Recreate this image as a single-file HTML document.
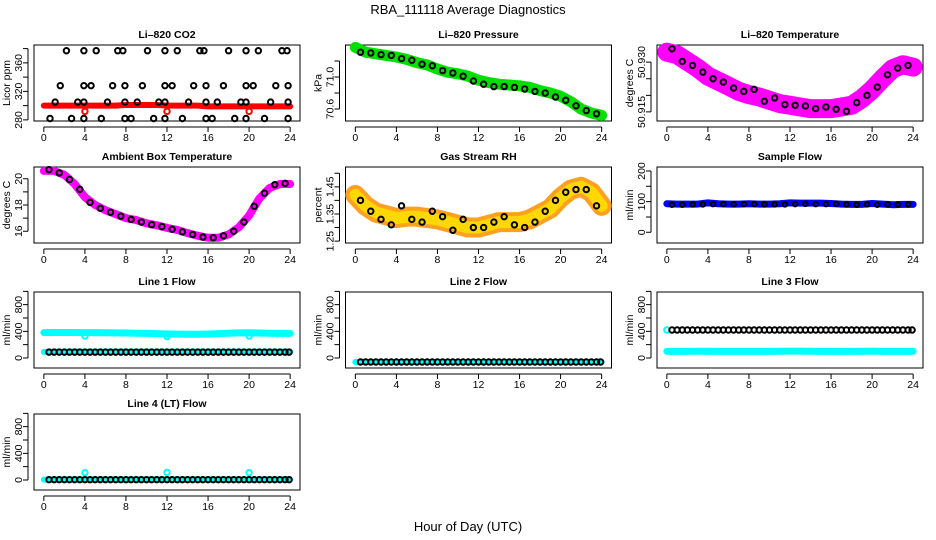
<!DOCTYPE html>
<html><head><meta charset="utf-8"><style>
html,body{margin:0;padding:0;background:#fff}
svg{display:block}
text{font-family:"Liberation Sans",sans-serif;fill:#000}
.t{font-size:10.5px;font-weight:bold}
.tk{font-size:10.5px}
</style></head><body>
<svg id="fig" width="936" height="540" xmlns="http://www.w3.org/2000/svg">
<text x="468" y="14" text-anchor="middle" font-size="13">RBA_111118  Average Diagnostics</text>
<text x="468" y="531" text-anchor="middle" font-size="13">Hour of Day (UTC)</text>
</svg>
<script>
// ---- data ----
const hours = [0,1,2,3,4,5,6,7,8,9,10,11,12,13,14,15,16,17,18,19,20,21,22,23,24];
const halfHours = [0.5,1,1.5,2,2.5,3,3.5,4,4.5,5,5.5,6,6.5,7,7.5,8,8.5,9,9.5,10,10.5,11,11.5,12,12.5,13,13.5,14,14.5,15,15.5,16,16.5,17,17.5,18,18.5,19,19.5,20,20.5,21,21.5,22,22.5,23,23.5,23.9];
const midHours = [0.5,1.5,2.5,3.5,4.5,5.5,6.5,7.5,8.5,9.5,10.5,11.5,12.5,13.5,14.5,15.5,16.5,17.5,18.5,19.5,20.5,21.5,22.5,23.5];
const spikeHours = [4,12,20];

const co2Times = [0.6,1.1,1.6,2.2,2.7,3.3,3.9,3.9,3.9,3.9,4.6,5.1,5.6,6.2,6.7,7.2,7.7,7.9,7.9,7.9,8.5,9.1,9.6,10.1,10.7,11.2,11.8,11.8,11.8,11.8,12.5,13.0,13.5,14.1,14.6,15.2,15.6,15.8,15.8,15.8,16.4,16.9,17.5,18.0,18.6,19.2,19.7,19.7,19.7,19.7,20.4,20.9,21.5,22.1,22.6,23.2,23.7,23.8,23.8,23.8];
const co2Black = [282,305,328,377,282,305,282,305,328,377,328,377,282,305,328,377,377,328,305,282,282,305,328,377,282,305,282,305,328,377,328,377,282,305,328,377,377,328,305,282,282,305,328,377,282,305,305,282,328,377,328,377,282,305,328,377,377,328,305,282];
const co2Red = [300,300,300,300,300,300,300,300,301,301,301,301,300,300,300,300,299,299,299,299,299,299,299,299,299];
const co2RedSpikes = [292,292,292];

const pressGreen = [71.37,71.31,71.29,71.27,71.25,71.22,71.18,71.15,71.10,71.06,71.04,71.01,70.96,70.93,70.91,70.90,70.89,70.87,70.83,70.80,70.76,70.69,70.60,70.55,70.52];
const pressBlack = [71.31,71.30,71.28,71.27,71.23,71.21,71.16,71.14,71.08,71.05,71.01,70.95,70.91,70.88,70.88,70.87,70.85,70.82,70.80,70.75,70.71,70.64,70.58,70.54];

const tempMag = [50.9330,50.9322,50.9302,50.9282,50.9258,50.9243,50.9228,50.9212,50.9202,50.9195,50.9185,50.9175,50.9170,50.9165,50.9160,50.9160,50.9160,50.9165,50.9170,50.9190,50.9217,50.9250,50.9280,50.9292,50.9285];
const tempBlack = [50.9340,50.9302,50.9290,50.9270,50.9250,50.9240,50.9222,50.9212,50.9218,50.9182,50.9192,50.9172,50.9170,50.9168,50.9160,50.9165,50.9158,50.9152,50.9178,50.9200,50.9225,50.9262,50.9282,50.9290];

const ambient = [20.6,20.6,20.3,19.6,18.6,18.0,17.6,17.3,17.0,16.85,16.6,16.45,16.25,16.1,15.85,15.65,15.5,15.5,15.75,16.3,17.2,18.5,19.3,19.6,19.6];
const ambientBlack = [20.7,20.45,19.95,19.2,18.2,17.75,17.45,17.15,16.9,16.7,16.5,16.35,16.15,15.95,15.75,15.55,15.5,15.65,16.0,16.7,17.9,18.9,19.55,19.65];

const rhBand = [1.42,1.38,1.355,1.345,1.335,1.34,1.34,1.335,1.33,1.32,1.31,1.30,1.30,1.31,1.32,1.32,1.32,1.33,1.35,1.37,1.41,1.44,1.45,1.43,1.38];
const rhBlack = [1.40,1.36,1.33,1.31,1.38,1.33,1.32,1.36,1.34,1.29,1.33,1.30,1.30,1.32,1.34,1.31,1.30,1.32,1.36,1.40,1.43,1.44,1.44,1.38];

const sampleBand = [93,92,92,92,96,93,92,92,93,92,92,93,96,95,95,95,94,92,91,91,94,92,90,91,91];
const sampleBlack = [90,90,91,91,92,92,91,92,92,91,91,91,92,93,92,92,93,91,90,91,90,91,91,91];

const line1Cyan = [380,382,383,382,380,380,379,377,375,372,369,365,360,358,356,356,360,366,372,376,378,375,372,370,370];
const line1CyanLow = [92,94,95,95,95,95,95,95,95,95,95,95,95,95,95,95,95,95,95,95,95,95,95,95,95];
const line1Black = [88,88,88,88,88,88,88,88,88,88,88,88,88,88,88,88,88,88,88,88,88,88,88,88,88,88,88,88,88,88,88,88,88,88,88,88,88,88,88,88,88,88,88,88,88,88,88,88];
const line1Spikes = [330,320,330];
const line2Cyan = [-60,-60,-60,-60,-60,-60,-60,-60,-60,-60,-60,-60,-60,-60,-60,-60,-60,-60,-60,-60,-60,-60,-60,-60,-60];
const line2Black = [-60,-60,-60,-60,-60,-60,-60,-60,-60,-60,-60,-60,-60,-60,-60,-60,-60,-60,-60,-60,-60,-60,-60,-60,-60,-60,-60,-60,-60,-60,-60,-60,-60,-60,-60,-60,-60,-60,-60,-60,-60,-60,-60,-60,-60,-60,-60,-60];
const line3Cyan = [100,100,100,102,102,100,100,100,100,100,100,102,104,104,102,100,100,100,100,102,104,100,100,100,100];
const line3CyanHigh = [420];
const line3Black = [420,420,420,420,420,420,420,420,420,420,420,420,420,420,420,420,420,420,420,420,420,420,420,420,420,420,420,420,420,420,420,420,420,420,420,420,420,420,420,420,420,420,420,420,420,420,420,420];
const line4Cyan = [5,5,5,5,5,5,5,5,5,5,5,5,5,5,5,5,5,5,5,5,5,5,5,5,5];
const line4Black = [5,5,5,5,5,5,5,5,5,5,5,5,5,5,5,5,5,5,5,5,5,5,5,5,5,5,5,5,5,5,5,5,5,5,5,5,5,5,5,5,5,5,5,5,5,5,5,5];
const line4Spikes = [110,115,110];
const xTicks = [0,4,8,12,16,20,24];

// ---- drawing ----
const NS = 'http://www.w3.org/2000/svg';
const svg = document.getElementById('fig');
const colLeft = [34, 345.5, 657];
const rowTop = [45, 167, 292, 414];
const PW = 266, PH = 76;

function mk(tag, parent) { const e = document.createElementNS(NS, tag); parent.appendChild(e); return e; }

function panel(col, row, name, title, ylab, ymin, ymax, ticks, labeled) {
  const g = mk('g', svg);
  
  
  const L = colLeft[col], T = rowTop[row];
  const xs = v => L + PW * ((v + 0.96) / 25.92);
  const ys = v => T + PH - PH * (v - ymin) / (ymax - ymin);
  const box = mk('rect', g);
  
  
  box.setAttribute('x', L); box.setAttribute('y', T); box.setAttribute('width', PW); box.setAttribute('height', PH);
  box.setAttribute('fill', 'none'); box.setAttribute('stroke', '#000'); box.setAttribute('stroke-width', '1');
  const tt = mk('text', g);
  
  
  tt.setAttribute('class', 't'); tt.setAttribute('x', L + PW / 2); tt.setAttribute('y', T - 7); tt.setAttribute('text-anchor', 'middle');
  tt.textContent = title;
  const xa = mk('path', g);
  
  
  let d = `M${xs(0)},${T+PH+6}H${xs(24)}`;
  xTicks.forEach(v => { d += `M${xs(v)},${T+PH+6}v5`; });
  xa.setAttribute('d', d); xa.setAttribute('stroke', '#000'); xa.setAttribute('fill', 'none');
  xTicks.forEach(v => {
    const t = mk('text', g);
    
    
    t.setAttribute('class', 'tk'); t.setAttribute('x', xs(v)); t.setAttribute('y', T + PH + 20); t.setAttribute('text-anchor', 'middle');
    t.textContent = v;
  });
  const ya = mk('path', g);
  
  
  d = `M${L-6},${ys(ticks[0])}V${ys(ticks[ticks.length-1])}`;
  ticks.forEach(v => { d += `M${L-6},${ys(v)}h-5`; });
  ya.setAttribute('d', d); ya.setAttribute('stroke', '#000'); ya.setAttribute('fill', 'none');
  labeled.forEach(v => {
    const t = mk('text', g);
    
    
    t.setAttribute('class', 'tk'); t.setAttribute('text-anchor', 'middle');
    t.setAttribute('transform', `translate(${L-12},${ys(v)}) rotate(-90)`);
    t.textContent = v;
  });
  const yl = mk('text', g);
  
  
  yl.setAttribute('font-size', '10.5'); yl.setAttribute('text-anchor', 'middle');
  yl.setAttribute('transform', `translate(${L-24},${T+PH/2}) rotate(-90)`);
  yl.textContent = ylab;
  return { g, xs, ys };
}

function band(p, xsArr, ysArr, color, w, name) {
  const e = mk('path', p.g);
  
  
  e.setAttribute('d', xsArr.map((x, i) => (i ? 'L' : 'M') + p.xs(x) + ',' + p.ys(ysArr[i])).join(''));
  e.setAttribute('stroke', color); e.setAttribute('stroke-width', w); e.setAttribute('fill', 'none');
  e.setAttribute('stroke-linejoin', 'round'); e.setAttribute('stroke-linecap', 'round');
}
function pts(p, xsArr, ysArr, color, name, r) {
  xsArr.forEach((x, i) => {
    const c = mk('circle', p.g);
    
    
    c.setAttribute('cx', p.xs(x)); c.setAttribute('cy', p.ys(ysArr[i])); c.setAttribute('r', r || 2.7);
    c.setAttribute('fill', 'none'); c.setAttribute('stroke', color); c.setAttribute('stroke-width', '2');
  });
}

let p = panel(0, 0, 'co2-panel', 'Li\u2013820 CO2', 'Licor ppm', 278.5, 385, [280,300,320,340,360,380], [280,320,360]);
band(p, hours, co2Red, '#ff0000', 6, 'co2-red-series');
pts(p, spikeHours, co2RedSpikes, '#ff0000', 'co2-red-spike');
pts(p, co2Times, co2Black, '#000', 'co2-black-point');

p = panel(1, 0, 'pressure-panel', 'Li\u2013820 Pressure', 'kPa', 70.45, 71.4, [70.6,70.8,71.0,71.2], ['70.6','71.0']);
band(p, hours, pressGreen, '#00e000', 11, 'pressure-green-series');
pts(p, midHours, pressBlack, '#000', 'pressure-black-point');

p = panel(2, 0, 'li820-temp-panel', 'Li\u2013820 Temperature', 'degrees C', 50.91227, 50.93515, [50.915,50.920,50.925,50.930], ['50.915','50.930']);
band(p, hours, tempMag, '#ff00ff', 19, 'li820-temp-magenta-series');
pts(p, midHours, tempBlack, '#000', 'li820-temp-black-point');

p = panel(0, 1, 'ambient-temp-panel', 'Ambient Box Temperature', 'degrees C', 15.1, 20.9, [16,17,18,19,20], [16,18,20]);
band(p, hours, ambient, '#ff00ff', 8, 'ambient-magenta-series');
pts(p, midHours, ambientBlack, '#000', 'ambient-black-point');

p = panel(1, 1, 'rh-panel', 'Gas Stream RH', 'percent', 1.243, 1.523, [1.25,1.30,1.35,1.40,1.45,1.50], ['1.25','1.35','1.45']);
band(p, hours, rhBand, '#ffa020', 20, 'rh-orange-series');
band(p, hours, rhBand, '#ffd800', 12, 'rh-yellow-series');
pts(p, midHours, rhBlack, '#000', 'rh-black-point');

p = panel(2, 1, 'sample-flow-panel', 'Sample Flow', 'ml/min', -35, 213, [0,50,100,150,200], [0,100,200]);
band(p, hours, sampleBand, '#0000ff', 7, 'sample-flow-blue-series');
pts(p, midHours, sampleBlack, '#000', 'sample-flow-black-point', 2.3);

const flowTicks = [0,200,400,600,800,1000];
p = panel(0, 2, 'line1-flow-panel', 'Line 1 Flow', 'ml/min', -150, 990, flowTicks, [0,400,800]);
band(p, hours, line1Cyan, '#00ffff', 7, 'line1-cyan-high-series');
band(p, hours, line1CyanLow, '#00ffff', 6, 'line1-cyan-low-series');
pts(p, spikeHours, line1Spikes, '#00ffff', 'line1-cyan-spike');
pts(p, halfHours, line1Black, '#000', 'line1-black-point');

p = panel(1, 2, 'line2-flow-panel', 'Line 2 Flow', 'ml/min', -150, 990, flowTicks, [0,400,800]);
band(p, hours, line2Cyan, '#00ffff', 6, 'line2-cyan-series');
pts(p, halfHours, line2Black, '#000', 'line2-black-point');

p = panel(2, 2, 'line3-flow-panel', 'Line 3 Flow', 'ml/min', -150, 990, flowTicks, [0,400,800]);
band(p, hours, line3Cyan, '#00ffff', 7, 'line3-cyan-series');
pts(p, [0], line3CyanHigh, '#00ffff', 'line3-cyan-point');
pts(p, halfHours, line3Black, '#000', 'line3-black-point');

p = panel(0, 3, 'line4-flow-panel', 'Line 4 (LT) Flow', 'ml/min', -150, 990, flowTicks, [0,400,800]);
band(p, hours, line4Cyan, '#00ffff', 6, 'line4-cyan-series');
pts(p, spikeHours, line4Spikes, '#00ffff', 'line4-cyan-spike');
pts(p, halfHours, line4Black, '#000', 'line4-black-point');
</script>
</body></html>
